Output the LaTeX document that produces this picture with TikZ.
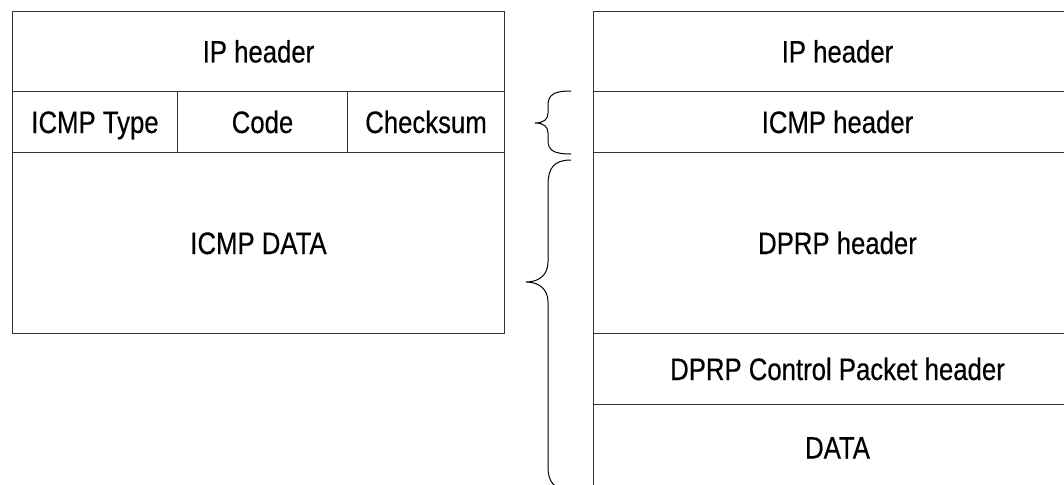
\documentclass[tikz,border=0pt]{standalone}
\usepackage{fontspec}
\setmainfont{Liberation Sans}[FakeStretch=0.83,FakeBold=0.4]
\begin{document}
\begin{tikzpicture}[x=1pt,y=-1pt,
  cell/.style={draw=black!80,line width=1pt,rectangle,inner sep=0pt,
    anchor=north west,font=\fontsize{31}{36}\selectfont,
    text height=22pt,text depth=0pt},
  brace/.style={draw=black,line width=1pt}]
\useasboundingbox (0,0) rectangle (1064,484);
\clip (0,0) rectangle (1064,484);
% ICMP message layout
\node[cell,minimum width=492pt,minimum height=80pt] (lip) at (12,11) {IP header};
\node[cell,minimum width=165pt,minimum height=61pt] (ltype) at (12,91) {ICMP Type};
\node[cell,minimum width=170pt,minimum height=61pt] (lcode) at (177,91) {Code};
\node[cell,minimum width=157pt,minimum height=61pt] (lsum) at (347,91) {Checksum};
\node[cell,minimum width=492pt,minimum height=181pt] (ldata) at (12,152) {ICMP DATA};
% DPRP control packet carried in ICMP
\node[cell,minimum width=488pt,minimum height=80pt] (rip) at (593,11) {IP header};
\node[cell,minimum width=488pt,minimum height=61pt] (ricmp) at (593,91) {ICMP header};
\node[cell,minimum width=488pt,minimum height=181pt] (rdprp) at (593,152) {DPRP header};
\node[cell,minimum width=488pt,minimum height=71pt] (rctl) at (593,333) {DPRP Control Packet header};
\node[cell,minimum width=488pt,minimum height=86pt] (rdata) at (593,404) {DATA};
% braces
\draw[brace] (571,91) .. controls (553,91) and (548,95) .. (548,106)
  -- (548,113) .. controls (548,119) and (544,123) .. (535,123)
  .. controls (544,123) and (548,127) .. (548,133)
  -- (548,140) .. controls (548,150) and (553,154) .. (571,154);
\draw[brace] (571,160) .. controls (554,160) and (548,168) .. (548,185)
  -- (548,262) .. controls (548,274) and (540,282) .. (526,282)
  .. controls (540,282) and (548,290) .. (548,302)
  -- (548,467) .. controls (548,482) and (554,490) .. (571,490);
\end{tikzpicture}
\end{document}
